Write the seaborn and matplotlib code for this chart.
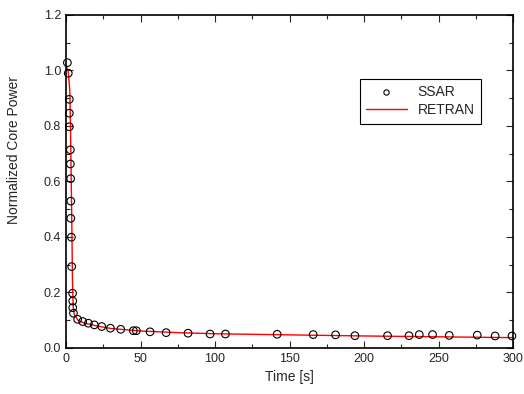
import matplotlib
matplotlib.use("Agg")
import matplotlib.pyplot as plt
import seaborn as sns
import pandas as pd
from matplotlib.ticker import MultipleLocator

# SSAR points
ssar_t = [0.9, 1.5, 2.2, 2.2, 2.2, 2.9, 2.9, 3.1, 3.2, 3.2, 3.6, 3.8, 4.4, 4.5, 4.5, 5.0,
          7.8, 11.2, 15.0, 19.0, 24.0, 29.8, 36.7, 45.2, 47.2, 56.4, 67.2, 81.9, 96.7,
          107.0, 141.7, 165.9, 180.9, 193.9, 215.8, 230.2, 237.1, 246.0, 257.2, 276.0,
          288.0, 299.3]
ssar_p = [1.028, 0.99, 0.896, 0.846, 0.797, 0.714, 0.663, 0.61, 0.529, 0.467, 0.399,
          0.293, 0.197, 0.169, 0.145, 0.125, 0.103, 0.095, 0.089, 0.083, 0.077, 0.071,
          0.067, 0.062, 0.062, 0.058, 0.055, 0.053, 0.050, 0.050, 0.049, 0.048, 0.047,
          0.044, 0.044, 0.044, 0.048, 0.048, 0.045, 0.046, 0.043, 0.043]

# RETRAN curve
retran_t = [0, 1.5, 2.5, 3.0, 3.5, 4.0, 4.3, 4.8, 5.5, 8, 12, 20, 30, 50, 75, 100,
            150, 200, 250, 300]
retran_p = [1.02, 0.995, 0.93, 0.8, 0.6, 0.4, 0.25, 0.15, 0.12, 0.10, 0.09, 0.08,
            0.07, 0.061, 0.055, 0.051, 0.047, 0.043, 0.040, 0.037]

ssar = pd.DataFrame({"t": ssar_t, "p": ssar_p})
retran = pd.DataFrame({"t": retran_t, "p": retran_p})

sns.set_style("ticks")
plt.rcParams["font.family"] = ["Liberation Sans", "DejaVu Sans"]

fig, ax = plt.subplots(figsize=(5.24, 3.94), dpi=100)
fig.subplots_adjust(left=0.126, right=0.979, bottom=0.117, top=0.962)

sns.lineplot(data=retran, x="t", y="p", color="red", lw=1, ax=ax, label="RETRAN", zorder=2)
sns.scatterplot(data=ssar, x="t", y="p", marker="o", s=30, facecolor="none",
                edgecolor="black", linewidth=0.8, ax=ax, label="SSAR", zorder=3, clip_on=False)

ax.set_xlim(0, 300)
ax.set_ylim(0, 1.2)
ax.xaxis.set_major_locator(MultipleLocator(50))
ax.xaxis.set_minor_locator(MultipleLocator(25))
ax.yaxis.set_major_locator(MultipleLocator(0.2))
ax.yaxis.set_minor_locator(MultipleLocator(0.1))
ax.tick_params(which="both", direction="in", top=True, right=True, labelsize=9, width=0.8)
ax.tick_params(which="major", length=5)
ax.tick_params(which="minor", length=3)
for s in ax.spines.values():
    s.set_linewidth(1.2)
    s.set_color("black")
ax.set_xlabel("Time [s]", fontsize=10)
ax.set_ylabel("Normalized Core Power", fontsize=10, labelpad=14)
ax.yaxis.set_label_coords(-0.1, 0.595)

h, l = ax.get_legend_handles_labels()
leg = ax.legend([h[1], h[0]], [l[1], l[0]], loc="upper left", bbox_to_anchor=(0.658, 0.808),
                borderaxespad=0, fancybox=False, framealpha=1, edgecolor="black", fontsize=10,
                handlelength=2.9, borderpad=0.45, labelspacing=0.3, markerscale=0.7)
leg.get_frame().set_linewidth(0.8)

fig.savefig("out.png", dpi=100)
